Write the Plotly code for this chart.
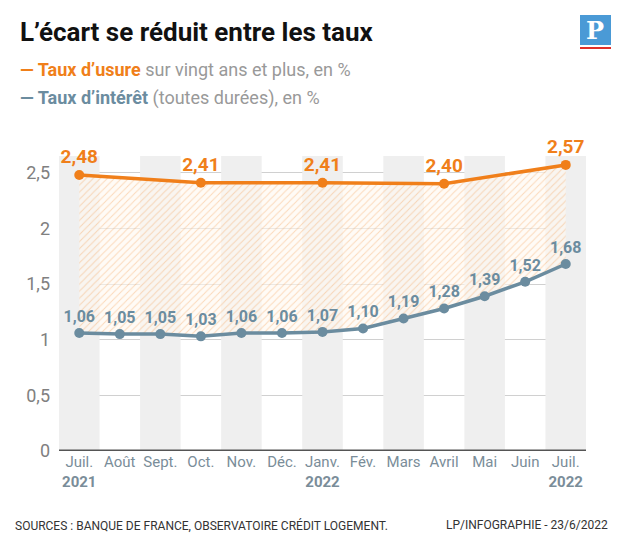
import plotly.graph_objects as go

months = ["Juil.", "Août", "Sept.", "Oct.", "Nov.", "Déc.", "Janv.", "Fév.", "Mars", "Avril", "Mai", "Juin", "Juil."]
years = ["2021", "", "", "", "", "", "2022", "", "", "", "", "", "2022"]
usure_x = [0, 3, 6, 9, 12]
usure = [2.48, 2.41, 2.41, 2.40, 2.57]
interet = [1.06, 1.05, 1.05, 1.03, 1.06, 1.06, 1.07, 1.10, 1.19, 1.28, 1.39, 1.52, 1.68]

ORANGE = "#f07f1a"
BLUE = "#6b8c9f"
FONT = "Roboto, sans-serif"

def fmt(v):
    return f"<b>{v:.2f}</b>".replace(".", ",")

x_all = list(range(len(months)))

fig = go.Figure()
stripe_x = [i for i in x_all if i % 2 == 0]
fig.add_trace(go.Bar(x=stripe_x, y=[2.65] * len(stripe_x), width=1, marker_color="#efefef",
                     marker_line_width=0, hoverinfo="skip", showlegend=False))
fig.add_trace(go.Scatter(x=x_all, y=interet, mode="lines", line=dict(color=BLUE, width=0),
                         showlegend=False, hoverinfo="skip"))
fig.add_trace(go.Scatter(x=usure_x, y=usure, mode="lines", line=dict(color=ORANGE, width=0),
                         fill="tonexty", fillcolor="rgba(255,255,255,0)",
                         fillpattern=dict(shape="/", fgcolor="rgba(240,127,26,0.55)", bgcolor="rgba(255,248,240,0.6)",
                                          size=5, solidity=0.2),
                         showlegend=False, hoverinfo="skip"))
fig.add_trace(go.Scatter(x=x_all, y=interet, mode="lines+markers+text", line=dict(color=BLUE, width=3.5),
                         marker=dict(size=10, color=BLUE), text=[fmt(v) for v in interet],
                         textposition="top center", cliponaxis=False,
                         textfont=dict(family=FONT, size=16, color=BLUE), showlegend=False))
fig.add_trace(go.Scatter(x=usure_x, y=usure, mode="lines+markers+text", line=dict(color=ORANGE, width=3.5),
                         marker=dict(size=10, color=ORANGE), text=[fmt(v) for v in usure],
                         textposition="top center", cliponaxis=False,
                         textfont=dict(family=FONT, size=19, color=ORANGE), showlegend=False))

ticktext = [m + ("<br><b>" + y + "</b>" if y else "<br> ") for m, y in zip(months, years)]
fig.update_xaxes(range=[-0.5, 12.5], tickvals=x_all, ticktext=ticktext, showgrid=False, tickangle=0,
                 automargin=False,
                 tickfont=dict(family=FONT, size=15, color="#7a8d99"), zeroline=False, showline=False, ticks="")
fig.update_yaxes(range=[0, 2.65], tickvals=[0, 0.5, 1, 1.5, 2, 2.5], ticktext=["0", "0,5", "1", "1,5", "2", "2,5"],
                 showgrid=True, gridcolor="#d0d0d0", gridwidth=1, zeroline=False, automargin=False,
                 tickfont=dict(family=FONT, size=18, color="#808080"), ticks="", ticklabelstandoff=8)
fig.add_shape(type="line", xref="paper", yref="y", x0=0, x1=1, y0=0, y1=0, line=dict(color="#555", width=3))

fig.update_layout(width=622, height=544, margin=dict(l=51, r=44, t=148, b=101),
                  plot_bgcolor="white", paper_bgcolor="white", barmode="overlay",
                  font=dict(family=FONT))
def py(px):
    return (443 - (px - 8)) / 295
def pxx(px):
    return (px - 59) / 527
fig.add_annotation(xref="paper", yref="paper", x=pxx(18), y=py(32), xanchor="left", yanchor="middle", showarrow=False,
                   text="<b>L’écart se réduit entre les taux</b>", font=dict(family=FONT, size=26, color="#111"))
fig.add_annotation(xref="paper", yref="paper", x=pxx(18), y=py(69), xanchor="left", yanchor="middle", showarrow=False,
                   text=f"<span style='color:{ORANGE}'><b>— Taux d’usure</b></span> sur vingt ans et plus, en %",
                   font=dict(family=FONT, size=18, color="#999"))
fig.add_annotation(xref="paper", yref="paper", x=pxx(18), y=py(98), xanchor="left", yanchor="middle", showarrow=False,
                   text=f"<span style='color:{BLUE}'><b>— Taux d’intérêt</b></span> (toutes durées), en %",
                   font=dict(family=FONT, size=18, color="#999"))
fig.add_annotation(xref="paper", yref="paper", x=pxx(13), y=py(525), xanchor="left", yanchor="middle", showarrow=False,
                   text="SOURCES : BANQUE DE FRANCE, OBSERVATOIRE CRÉDIT LOGEMENT.",
                   font=dict(family=FONT, size=12, color="#333"))
fig.add_annotation(xref="paper", yref="paper", x=pxx(610), y=py(525), xanchor="right", yanchor="middle", showarrow=False,
                   text="LP/INFOGRAPHIE - 23/6/2022", font=dict(family=FONT, size=12, color="#333"))
# logo
fig.add_shape(type="rect", xref="paper", yref="paper", x0=pxx(580), x1=pxx(611), y0=py(45), y1=py(15),
              fillcolor="#4a9ad6", line_width=0)
fig.add_shape(type="line", xref="paper", yref="paper", x0=pxx(580), x1=pxx(611), y0=py(48), y1=py(48),
              line=dict(color="#e0302a", width=2))
fig.add_annotation(xref="paper", yref="paper", x=pxx(595), y=py(30), xanchor="center", yanchor="middle",
                   showarrow=False, text="<b>P</b>",
                   font=dict(family="DejaVu Serif", size=24, color="white"))

fig.write_html("out.html")
